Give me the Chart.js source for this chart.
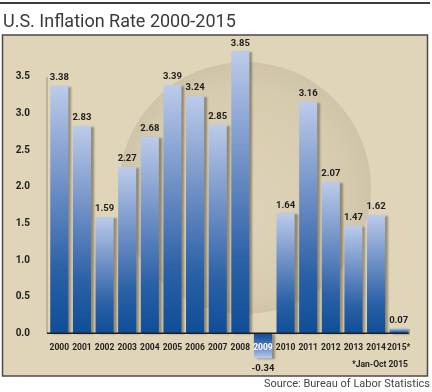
<!DOCTYPE html>
<html>
<head>
<meta charset="utf-8">
<script src="https://cdn.jsdelivr.net/npm/chart.js@4.4.0/dist/chart.umd.min.js"></script>
<style>
  html, body { margin: 0; padding: 0; background: #ffffff; }
  #wrap { position: relative; width: 432px; height: 392px; }
</style>
</head>
<body>
<div id="wrap"><canvas id="chart" width="432" height="392"></canvas></div>
<script>
// data
const years = ['2000', '2001', '2002', '2003', '2004', '2005', '2006', '2007',
               '2008', '2009', '2010', '2011', '2012', '2013', '2014', '2015*'];
const rates = [3.38, 2.83, 1.59, 2.27, 2.68, 3.39, 3.24, 2.85,
               3.85, -0.34, 1.64, 3.16, 2.07, 1.47, 1.62, 0.07];
const yTicks = [0, 0.5, 1.0, 1.5, 2.0, 2.5, 3.0, 3.5];

const titleText = 'U.S. Inflation Rate 2000-2015';
const footnote = '*Jan-Oct 2015';
const sourceText = 'Source: Bureau of Labor Statistics';

const FONT = 'Roboto, "DejaVu Sans", sans-serif';

// gradient per bar: dark at the base, light at the tip
function barFill(context) {
    const chart = context.chart;
    const y = chart.scales.y;
    if (!chart.chartArea || !y) return '#3f6fb0';
    const v = rates[context.dataIndex];
    const base = y.getPixelForValue(0);
    const tip = y.getPixelForValue(v);
    if (Math.abs(base - tip) < 1) return '#3f6fb0';
    const g = chart.ctx.createLinearGradient(0, base, 0, tip);
    g.addColorStop(0, '#0e4e98');
    g.addColorStop(0.25, '#2a60a6');
    g.addColorStop(0.6, '#6f90c6');
    g.addColorStop(1, '#bccbea');
    return g;
}

const decor = {
    id: 'decor',
    beforeDraw(chart) {
        const ctx = chart.ctx;
        ctx.save();
        // top rule
        ctx.fillStyle = '#3c3c3c';
        ctx.fillRect(0, 2, 430, 2);
        // title
        ctx.fillStyle = '#3a3a3a';
        ctx.font = '18px ' + FONT;
        ctx.textBaseline = 'alphabetic';
        ctx.textAlign = 'left';
        ctx.fillText(titleText, 3, 27);
        // panel
        ctx.fillStyle = '#e0d5b9';
        ctx.fillRect(2.5, 35, 425, 341);
        // soft disc in the middle
        const g = ctx.createRadialGradient(225, 215, 20, 245, 188, 126);
        g.addColorStop(0, '#ded3b8');
        g.addColorStop(0.8, '#d7cbaf');
        g.addColorStop(1, '#d0c4a8');
        ctx.fillStyle = g;
        ctx.beginPath();
        ctx.arc(245, 188, 126, 0, Math.PI * 2);
        ctx.fill();
        ctx.strokeStyle = '#4a4a4a';
        ctx.lineWidth = 1.5;
        ctx.strokeRect(2.5, 35, 425, 341);
        ctx.restore();
    },
    beforeDatasetsDraw(chart) {
        const ctx = chart.ctx;
        ctx.save();
        ctx.shadowColor = 'rgba(60, 50, 30, 0.45)';
        ctx.shadowOffsetX = 3;
        ctx.shadowOffsetY = 1;
        ctx.shadowBlur = 2;
    },
    afterDatasetsDraw(chart) {
        const ctx = chart.ctx;
        ctx.restore();
        const x = chart.scales.x;
        const y = chart.scales.y;
        const zero = y.getPixelForValue(0);
        const left = chart.chartArea.left;
        ctx.save();
        // axis lines
        ctx.strokeStyle = '#b0a894';
        ctx.lineWidth = 1.5;
        ctx.beginPath();
        ctx.moveTo(left - 1, y.getPixelForValue(yTicks[yTicks.length - 1]));
        ctx.lineTo(left - 1, zero);
        ctx.stroke();
        ctx.strokeStyle = '#1e1e1e';
        ctx.lineWidth = 1.5;
        ctx.beginPath();
        ctx.moveTo(left - 1, zero);
        ctx.lineTo(x.getPixelForValue(rates.length - 1) + 10, zero);
        ctx.stroke();

        // value labels
        ctx.fillStyle = '#1e1e1e';
        ctx.textAlign = 'center';
        ctx.textBaseline = 'middle';
        ctx.font = 'bold 9.5px ' + FONT;
        rates.forEach((v, i) => {
            const px = x.getPixelForValue(i);
            const py = y.getPixelForValue(v);
            const txt = v.toFixed(2);
            if (v < 0) ctx.fillText(txt, px, py + 10);
            else ctx.fillText(txt, px, py - 8);
        });

        // category labels, on top of the bars
        ctx.font = 'bold 8.5px ' + FONT;
        years.forEach((lab, i) => {
            const px = x.getPixelForValue(i);
            ctx.fillStyle = rates[i] < 0 ? '#ffffff' : '#1e1e1e';
            ctx.fillText(lab, px, zero + 15);
        });

        // footnote and source
        ctx.textAlign = 'right';
        ctx.fillStyle = '#1e1e1e';
        ctx.font = 'bold 8.5px ' + FONT;
        ctx.fillText(footnote, 408, 365);
        ctx.fillStyle = '#444444';
        ctx.font = '11px ' + FONT;
        ctx.fillText(sourceText, 430, 384);
        ctx.restore();
    }
};

new Chart(document.getElementById('chart').getContext('2d'), {
    type: 'bar',
    data: {
        labels: years,
        datasets: [{
            label: 'Inflation rate',
            data: rates,
            backgroundColor: barFill,
            borderWidth: 0,
            barPercentage: 0.8,
            categoryPercentage: 1.0,
        }],
    },
    options: {
        responsive: false,
        animation: false,
        devicePixelRatio: 1,
        layout: { padding: { left: 8, right: 22, top: 44, bottom: 22 } },
        plugins: {
            legend: { display: false },
            tooltip: { enabled: false },
        },
        scales: {
            x: {
                display: false,
            },
            y: {
                min: -0.5,
                max: 3.95,
                grid: { display: false },
                border: { display: false },
                afterFit(scale) { scale.width = 40; },
                afterBuildTicks(scale) {
                    scale.ticks = yTicks.map(v => ({ value: v }));
                },
                ticks: {
                    padding: 10,
                    color: '#1e1e1e',
                    font: { family: FONT, size: 10, weight: 'bold' },
                    callback: v => Number(v).toFixed(1),
                },
            },
        },
    },
    plugins: [decor],
});
</script>
</body>
</html>
